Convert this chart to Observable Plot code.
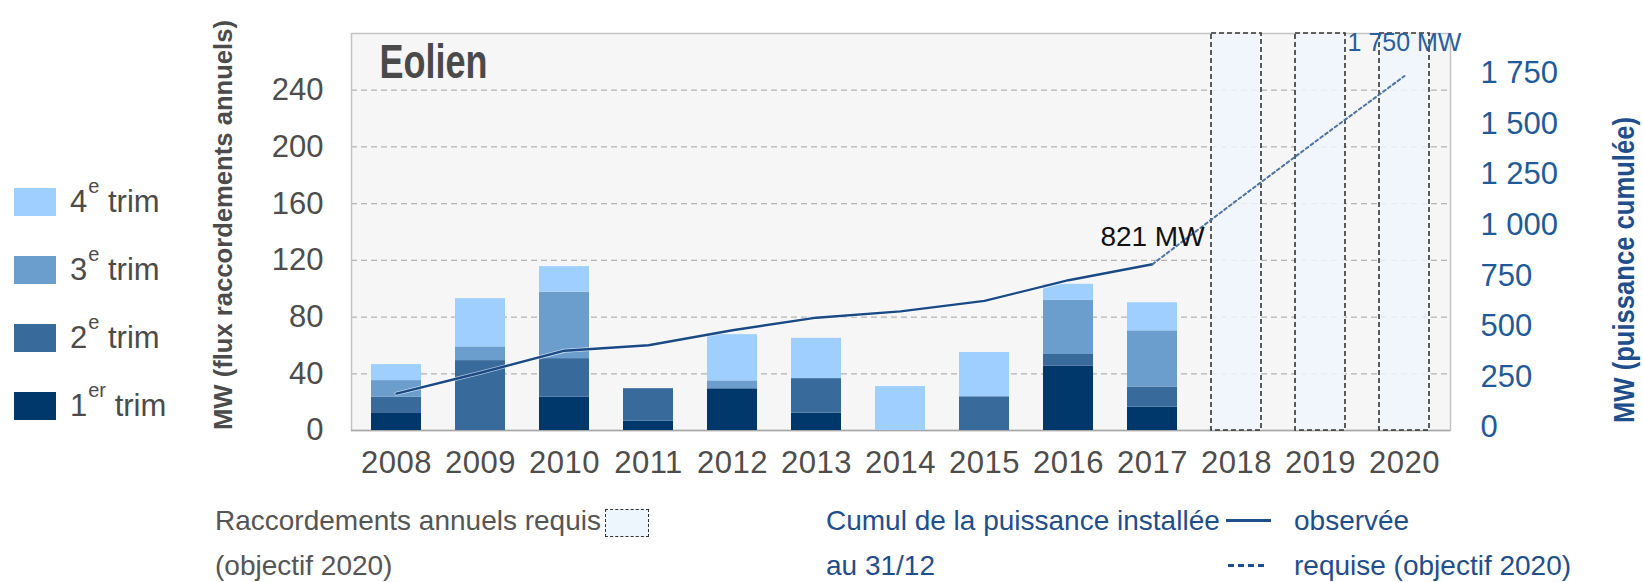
<!DOCTYPE html>
<html>
<head>
<meta charset="utf-8">
<script src="https://cdn.jsdelivr.net/npm/d3@7"></script>
<script src="https://cdn.jsdelivr.net/npm/@observablehq/plot@0.6"></script>
<style>
  body { margin: 0; background: #fff; }
  #wrap { position: relative; width: 1643px; height: 582px; overflow: hidden;
          font-family: "Liberation Sans", Arial, sans-serif; }
  #chart { position: absolute; left: 0; top: 0; }
  .li { position: absolute; left: 14px; height: 28px; display: flex; align-items: center; }
  .sw { width: 42px; height: 28px; display: inline-block; }
  .lt { margin-left: 14px; font-size: 31px; color: #4b4b4b; line-height: 28px; white-space: nowrap; }
  .lt sup { font-size: 20px; position: relative; top: -2px; vertical-align: top; line-height: 0; margin-left: 1px; }
  .bt { position: absolute; font-size: 28px; line-height: 34px; white-space: nowrap; }
  .grey { color: #555; }
  .blue { color: #1f4e8c; }
  #reqbox { position: absolute; left: 605px; top: 509px; width: 42px; height: 26px;
            border: 1.5px dashed #333; background: #eef6fd; }
  #solidS { position: absolute; left: 1226px; top: 519px; width: 45px; height: 3px; background: #1f4e8c; }
  #dashS { position: absolute; left: 1228px; top: 564px; width: 40px; height: 3px;
           background: repeating-linear-gradient(to right, #1f4e8c 0 6px, transparent 6px 10px); }
  g[aria-label="x-axis tick label"] text { letter-spacing: 0.5px; }
</style>
</head>
<body>
<div id="wrap">
  <div id="chart"></div>
  <div id="legendLeft"></div>
  <div class="bt grey" style="left:215px; top:504px;">Raccordements annuels requis</div>
  <div class="bt grey" style="left:215px; top:549px;">(objectif 2020)</div>
  <div id="reqbox"></div>
  <div class="bt blue" style="left:826px; top:504px;">Cumul de la puissance installée</div>
  <div class="bt blue" style="left:826px; top:549px;">au 31/12</div>
  <div id="solidS"></div>
  <div class="bt blue" style="left:1294px; top:504px;">observée</div>
  <div id="dashS"></div>
  <div class="bt blue" style="left:1294px; top:549px;">requise (objectif 2020)</div>
</div>
<script>
// ---- data ----
const years = ["2008","2009","2010","2011","2012","2013","2014","2015","2016","2017","2018","2019","2020"];
const observedYears = ["2008","2009","2010","2011","2012","2013","2014","2015","2016","2017"];
const requiredYears = ["2018","2019","2020"];
const quarterKeys = ["q1","q2","q3","q4"];
const q1 = [12.5, 0, 23.6, 6.6, 29.4, 12.3, 0, 0, 45.3, 16.5];
const q2 = [11.1, 49.3, 27.1, 22.9, 0, 24.3, 0, 23.8, 8.3, 14.2];
const q3 = [11.6, 9.7, 46.8, 0, 5.6, 0, 0, 0, 38.2, 39.6];
const q4 = [11.3, 34, 18.1, 0, 32.6, 28.4, 31, 31.2, 11.3, 19.8];
const cumulObserved = [182, 285, 394, 421, 495, 557, 588, 640, 742, 821];
const cumulRequiredYears = ["2017","2018","2019","2020"];
const cumulRequired = [821, 1135, 1445, 1750];
const leftTicks = [0, 40, 80, 120, 160, 200, 240];
const rightTicks = [0, 250, 500, 750, 1000, 1250, 1500, 1750];
const rightAxisFactor = 7; // right axis (cumulative MW) = 7 x left axis units
const legendNums = ["4","3","2","1"];
const legendSups = ["e","e","e","er"];
const legendKeys = ["q4","q3","q2","q1"];
const titleText = "Eolien";
const leftTitle = "MW (flux raccordements annuels)";
const rightTitle = "MW (puissance cumulée)";

const quarterColors = {q1: "#00386b", q2: "#396a9c", q3: "#6b9dcd", q4: "#9fcfff"};

// ---- table built from arrays ----
const quarterValues = {q1, q2, q3, q4};
const barRows = [];
observedYears.forEach((yr, i) => {
  quarterKeys.forEach(k => barRows.push({year: yr, quarter: k, value: quarterValues[k][i]}));
});
const obsRows = observedYears.map((yr, i) => ({year: yr, value: cumulObserved[i]}));
const reqRows = cumulRequiredYears.map((yr, i) => ({year: yr, value: cumulRequired[i]}));

const fmt = d3.formatLocale({decimal: ",", thousands: " ", grouping: [3]}).format(",d");

const chart = Plot.plot({
  width: 1643,
  height: 490,
  marginLeft: 351,
  marginRight: 193,
  marginTop: 33,
  marginBottom: 60,
  style: {fontFamily: "'Liberation Sans', Arial, sans-serif", background: "transparent", overflow: "visible"},
  x: {type: "band", domain: years, paddingInner: 0.4, paddingOuter: 0.22, label: null},
  y: {domain: [0, 280], label: null},
  color: {domain: quarterKeys, range: quarterKeys.map(k => quarterColors[k])},
  marks: [
    Plot.frame({fill: "#f6f6f6", stroke: null}),
    Plot.ruleY(leftTicks.filter(d => d > 0), {stroke: "#b3b3b3", strokeWidth: 1.3, strokeDasharray: "6,4"}),
    Plot.frame({stroke: "#c4c4c4", strokeWidth: 1.5}),
    Plot.ruleY([0], {stroke: "#a9a9a9", strokeWidth: 1.5}),
    Plot.barY(barRows, {x: "year", y: "value", fill: "quarter", order: quarterKeys}),
    Plot.cell(requiredYears, {x: d => d, fill: "#eef6fd", fillOpacity: 0.85, stroke: "#333", strokeWidth: 1.6, strokeDasharray: "5,3"}),
    Plot.line(obsRows, {x: "year", y: d => d.value / rightAxisFactor, stroke: "#ffffff", strokeOpacity: 0.6, strokeWidth: 4}),
    Plot.line(obsRows, {x: "year", y: d => d.value / rightAxisFactor, stroke: "#1a4a86", strokeWidth: 2.4}),
    Plot.line(reqRows, {x: "year", y: d => d.value / rightAxisFactor, stroke: "#4f73a8", strokeWidth: 2, strokeDasharray: "3,3"}),
    Plot.text([cumulObserved[cumulObserved.length - 1]], {x: () => observedYears[observedYears.length - 1], y: d => d / rightAxisFactor,
      text: d => d + " MW", dy: -27, fontSize: 28, fill: "#111"}),
    Plot.text([cumulRequired[cumulRequired.length - 1]], {x: () => cumulRequiredYears[cumulRequiredYears.length - 1], y: d => d / rightAxisFactor,
      text: d => fmt(d) + " MW", dy: -33, fontSize: 25, fill: "#2b5e9c"}),
    Plot.text([titleText], {frameAnchor: "top-left", text: d => d, dx: 28, dy: 10, lineAnchor: "top",
      fontSize: 48, fontWeight: "bold", fill: "#4a4a4a"}),
    Plot.axisX({tickSize: 0, tickPadding: 20, fontSize: 31, color: "#4d4d4d", label: null}),
    Plot.axisY({ticks: leftTicks, tickSize: 0, tickPadding: 28, fontSize: 31, color: "#4d4d4d", label: null}),
    Plot.axisY({anchor: "right", ticks: rightTicks.map(v => v / rightAxisFactor), tickFormat: d => fmt(Math.round(d * rightAxisFactor)),
      tickSize: 0, tickPadding: 30, fontSize: 31, color: "#1f5a9a", label: null, dy: -3}),
    Plot.text([leftTitle], {frameAnchor: "left", textAnchor: "middle", text: d => d, dx: -128, dy: -7, rotate: -90,
      fontSize: 26, fontWeight: "bold", fill: "#4b4b4b"}),
    Plot.text([rightTitle], {frameAnchor: "right", textAnchor: "middle", text: d => d, dx: 174, dy: 38, rotate: -90,
      fontSize: 29, fontWeight: "bold", fill: "#1f4e8c"})
  ]
});
document.getElementById("chart").appendChild(chart);

// condense the bold titles to the reference's narrow lettering
const condensed = {[titleText]: 108, [leftTitle]: 410, [rightTitle]: 306};
chart.querySelectorAll("text").forEach(t => {
  const L = condensed[t.textContent];
  if (L) { t.setAttribute("textLength", L); t.setAttribute("lengthAdjust", "spacingAndGlyphs"); }
});

// ---- left legend ----
const ll = document.getElementById("legendLeft");
legendKeys.forEach((k, i) => {
  const div = document.createElement("div");
  div.className = "li";
  div.style.top = (188 + i * 68) + "px";
  const sw = document.createElement("span");
  sw.className = "sw";
  sw.style.background = quarterColors[k];
  const lt = document.createElement("span");
  lt.className = "lt";
  lt.innerHTML = legendNums[i] + "<sup>" + legendSups[i] + "</sup> trim";
  div.appendChild(sw);
  div.appendChild(lt);
  ll.appendChild(div);
});
</script>
</body>
</html>
